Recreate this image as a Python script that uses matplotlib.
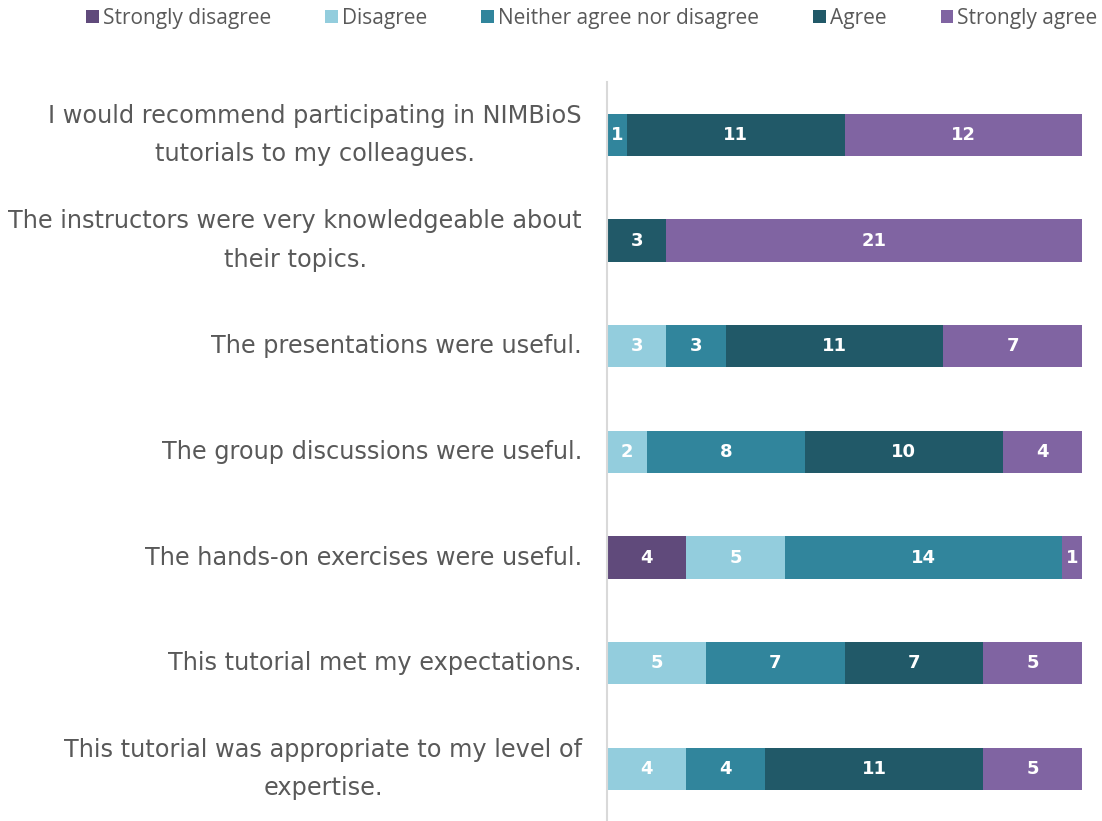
import matplotlib.pyplot as plt
import numpy as np

categories = [
    "I would recommend participating in NIMBioS\ntutorials to my colleagues.",
    "The instructors were very knowledgeable about\ntheir topics.",
    "The presentations were useful.",
    "The group discussions were useful.",
    "The hands-on exercises were useful.",
    "This tutorial met my expectations.",
    "This tutorial was appropriate to my level of\nexpertise.",
]
levels = ["Strongly disagree", "Disagree", "Neither agree nor disagree", "Agree", "Strongly agree"]
strongly_disagree = [0, 0, 0, 0, 4, 0, 0]
disagree = [0, 0, 3, 2, 5, 5, 4]
neither = [1, 0, 3, 8, 14, 7, 4]
agree = [11, 3, 11, 10, 0, 7, 11]
strongly_agree = [12, 21, 7, 4, 1, 5, 5]
colors = ["#604A7B", "#93CDDD", "#31859C", "#215968", "#8064A2"]


def main():
    series = [strongly_disagree, disagree, neither, agree, strongly_agree]
    y = np.arange(len(categories))

    fig = plt.figure(figsize=(11.02, 8.21), dpi=100)
    ax = fig.add_axes([0.5508, -0.001, 0.4311, 0.9011])

    left = np.zeros(len(categories))
    for name, vals, col in zip(levels, series, colors):
        vals = np.array(vals, dtype=float)
        ax.barh(y, vals, left=left, height=0.4, color=col, label=name)
        for yi, (l, v) in enumerate(zip(left, vals)):
            if v > 0:
                ax.text(l + v / 2, yi, f"{int(v)}", ha="center", va="center",
                        color="white", fontsize=13, fontweight="bold")
        left += vals

    ax.set_xlim(0, 24)
    ax.set_ylim(6.5, -0.5)
    ax.set_xticks([])
    ax.set_yticks(y)
    ax.set_yticklabels(categories, fontsize=17.3, color="#595959", linespacing=1.75)
    ax.tick_params(axis="y", length=0, pad=18)
    for lab in ax.get_yticklabels():
        lab.set_horizontalalignment("right")
        lab.set_multialignment("center")
        lab.set_verticalalignment("center")
    for s in ["top", "right", "bottom"]:
        ax.spines[s].set_visible(False)
    ax.spines["left"].set_color("#D9D9D9")
    ax.spines["left"].set_linewidth(1.5)

    fig.legend(loc="center", bbox_to_anchor=(0.537, 0.978), ncol=5, frameon=False,
               labelcolor="#595959", handlelength=0.6, handleheight=0.6,
               handletextpad=0.2, columnspacing=2.6, prop={"family": "Open Sans", "size": 15})

    fig.savefig("out.png", dpi=100)


if __name__ == "__main__":
    main()
